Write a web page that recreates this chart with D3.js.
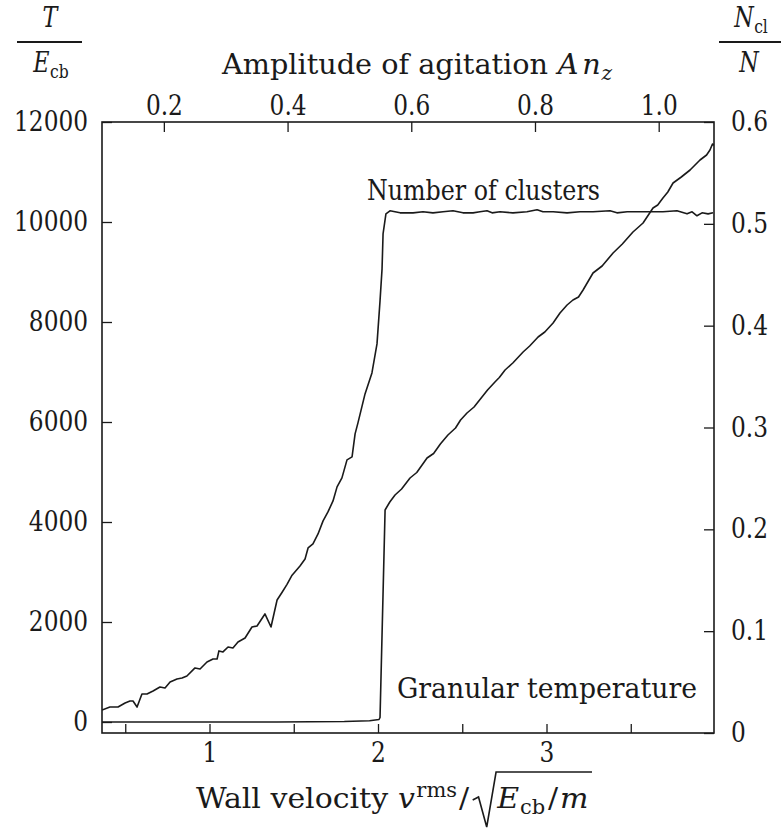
<!DOCTYPE html>
<html><head><meta charset="utf-8">
<script src="https://cdn.jsdelivr.net/npm/d3@7"></script>
<style>
body{margin:0;background:#fff}
svg{display:block}
</style>
</head><body>
<svg id="c" width="781" height="829"></svg>
<script>
// ---------- data ----------
const velocityTicks = [1, 2, 3];
const velocityMinorTicks = [0.5, 1.5, 2.5, 3.5];
const amplitudeTicks = [0.2, 0.4, 0.6, 0.8, 1.0];
const temperatureTicks = [0, 2000, 4000, 6000, 8000, 10000, 12000];
const clusterTicks = [0, 0.1, 0.2, 0.3, 0.4, 0.5, 0.6];

// Granular temperature T/E_cb (left axis) vs wall velocity
const temperatureV = [0.362, 0.6, 1.0, 1.4, 1.8, 1.95, 2.006, 2.012, 2.042, 2.07, 2.101, 2.14, 2.19, 2.23, 2.291, 2.33, 2.37, 2.415, 2.46, 2.49, 2.528, 2.57, 2.617, 2.65, 2.694, 2.72, 2.754, 2.80, 2.861, 2.90, 2.95, 2.99, 3.039, 3.08, 3.122, 3.157, 3.19, 3.217, 3.276, 3.33, 3.395, 3.45, 3.513, 3.573, 3.632, 3.66, 3.691, 3.72, 3.751, 3.80, 3.852, 3.911, 3.95, 3.97, 3.985, 3.994];
const temperatureT = [0, 0, 0, 0, 10, 25, 50, 90, 4240, 4400, 4540, 4660, 4880, 4990, 5280, 5370, 5560, 5740, 5880, 6040, 6180, 6300, 6500, 6640, 6800, 6890, 7040, 7180, 7400, 7520, 7700, 7800, 7980, 8180, 8340, 8440, 8500, 8640, 8980, 9120, 9380, 9560, 9800, 9980, 10280, 10340, 10480, 10600, 10780, 10900, 11040, 11240, 11340, 11440, 11560, 11540];

// Number of clusters N_cl/N (right axis) vs wall velocity
const clusterV = [0.362, 0.409, 0.457, 0.499, 0.528, 0.546, 0.570, 0.599, 0.629, 0.665, 0.706, 0.736, 0.766, 0.807, 0.837, 0.866, 0.914, 0.944, 0.985, 1.021, 1.045, 1.056, 1.080, 1.110, 1.139, 1.169, 1.211, 1.252, 1.282, 1.329, 1.365, 1.401, 1.43, 1.46, 1.49, 1.537, 1.567, 1.585, 1.614, 1.644, 1.674, 1.703, 1.733, 1.757, 1.786, 1.816, 1.846, 1.864, 1.881, 1.923, 1.964, 1.994, 2.012, 2.024, 2.030, 2.047, 2.071, 2.131, 2.208, 2.267, 2.326, 2.386, 2.445, 2.504, 2.564, 2.605, 2.647, 2.677, 2.724, 2.801, 2.884, 2.944, 2.979, 3.039, 3.122, 3.199, 3.276, 3.377, 3.418, 3.479, 3.597, 3.691, 3.774, 3.834, 3.864, 3.893, 3.923, 3.959, 3.988];
const clusterN = [0.0226, 0.0255, 0.0255, 0.0295, 0.0314, 0.0314, 0.0255, 0.0383, 0.0383, 0.0413, 0.0452, 0.0442, 0.0501, 0.0530, 0.0540, 0.0560, 0.0639, 0.0629, 0.0697, 0.0727, 0.0727, 0.0806, 0.0796, 0.0845, 0.0835, 0.0894, 0.0933, 0.1041, 0.1051, 0.1169, 0.1041, 0.1306, 0.138, 0.146, 0.155, 0.1640, 0.1709, 0.1817, 0.1857, 0.1955, 0.2083, 0.2171, 0.2279, 0.2417, 0.2505, 0.2682, 0.2711, 0.2937, 0.3045, 0.3330, 0.3536, 0.3821, 0.4244, 0.4558, 0.4902, 0.5098, 0.5128, 0.5108, 0.5108, 0.5118, 0.5108, 0.5118, 0.5128, 0.5108, 0.5108, 0.5118, 0.5128, 0.5108, 0.5118, 0.5108, 0.5118, 0.5138, 0.5118, 0.5118, 0.5108, 0.5118, 0.5118, 0.5128, 0.5108, 0.5118, 0.5118, 0.5118, 0.5128, 0.5098, 0.5118, 0.5079, 0.5108, 0.5098, 0.5108];

// ---------- layout ----------
const L = 102, R = 714, T = 122, B = 733;
const ink = '#1a1a1a';
const FONT = "'DejaVu Serif Condensed', 'DejaVu Serif', serif";
const svg = d3.select('#c').attr('font-family', FONT);

const x = d3.scaleLinear([0.362, 3.994], [L, R]);
const xTop = d3.scaleLinear([0.1, 1.0894], [L, R]);
const yL = d3.scaleLinear([-220, 12000], [B, T]);
const yR = d3.scaleLinear([0, 0.6], [B, T]);

// measure horizontal squeeze for tick labels ("12000" should be ~74px wide)
const TICK_SIZE = 27;
const probe = svg.append('text').attr('font-size', TICK_SIZE).text('12000');
const tickSx = Math.min(1, 74 / probe.node().getComputedTextLength());
probe.remove();

function styleAxis(g) {
  g.attr('font-family', FONT).attr('font-size', TICK_SIZE);
  g.select('.domain').remove();
  g.selectAll('line').attr('stroke', ink).attr('stroke-width', 1.3);
  g.selectAll('text').attr('fill', ink).each(function () {
    const t = d3.select(this);
    const x0 = +t.attr('x') || 0;
    t.attr('x', x0 / tickSx).attr('transform', `scale(${tickSx},1)`);
  });
}

svg.append('g').attr('transform', `translate(0,${B})`)
  .call(d3.axisBottom(x).tickValues(velocityMinorTicks.concat(velocityTicks))
    .tickFormat(d => velocityTicks.includes(d) ? String(d) : '')
    .tickSizeInner(-9).tickSizeOuter(0).tickPadding(10))
  .call(styleAxis);

svg.append('g').attr('transform', `translate(0,${T})`)
  .call(d3.axisTop(xTop).tickValues(amplitudeTicks).tickFormat(d => d.toFixed(1))
    .tickSizeInner(-10).tickSizeOuter(0).tickPadding(7))
  .call(styleAxis);

svg.append('g').attr('transform', `translate(${L},0)`)
  .call(d3.axisLeft(yL).tickValues(temperatureTicks).tickFormat(d3.format('d'))
    .tickSizeInner(-10).tickSizeOuter(0).tickPadding(14))
  .call(styleAxis);

svg.append('g').attr('transform', `translate(${R},0)`)
  .call(d3.axisRight(yR).tickValues(clusterTicks).tickFormat(d => d === 0 ? '0' : d.toFixed(1))
    .tickSizeInner(-10).tickSizeOuter(0).tickPadding(17))
  .call(styleAxis);

svg.append('rect').attr('x', L).attr('y', T).attr('width', R - L).attr('height', B - T)
  .attr('fill', 'none').attr('stroke', ink).attr('stroke-width', 1.6);

svg.append('clipPath').attr('id', 'pc').append('rect')
  .attr('x', L).attr('y', T).attr('width', R - L).attr('height', B - T);

const tempLine = d3.line().x((d, i) => x(temperatureV[i])).y(d => yL(d));
const clusLine = d3.line().x((d, i) => x(clusterV[i])).y(d => yR(d));

svg.append('path').attr('d', tempLine(temperatureT)).attr('fill', 'none')
  .attr('stroke', ink).attr('stroke-width', 1.6).attr('stroke-linejoin', 'round').attr('clip-path', 'url(#pc)');
svg.append('path').attr('d', clusLine(clusterN)).attr('fill', 'none')
  .attr('stroke', ink).attr('stroke-width', 1.6).attr('stroke-linejoin', 'round').attr('clip-path', 'url(#pc)');

// ---------- rich text ----------
// builds pieces in a local group starting at 0; returns natural width
function build(g, pieces, size, y) {
  let cx = 0;
  pieces.forEach(p => {
    const small = p.sub || p.sup;
    const fs = small ? size * 0.7 : size;
    const dy = p.sub ? size * 0.22 : p.sup ? -size * 0.38 : 0;
    cx += (p.dx || 0) * size;
    const t = g.append('text').attr('x', cx).attr('y', y + dy).attr('font-size', fs)
      .attr('fill', ink).attr('font-style', p.it ? 'italic' : 'normal').text(p.t);
    cx += t.node().getComputedTextLength();
  });
  return cx;
}
// place a label from x0 to x1 (squeezed horizontally to fit)
function fitLabel(x0, x1, y, pieces, size) {
  const outer = svg.append('g');
  const inner = outer.append('g');
  const w = build(inner, pieces, size, y);
  const sx = (x1 - x0) / w;
  outer.attr('transform', `translate(${x0},0) scale(${sx},1)`);
}
// centered label with fixed squeeze
function centerLabel(cx, y, pieces, size, sx) {
  const outer = svg.append('g');
  const inner = outer.append('g');
  const w = build(inner, pieces, size, y);
  outer.attr('transform', `translate(${cx - w * sx / 2},0) scale(${sx},1)`);
}

fitLabel(367, 600, 200, [{ t: 'Number of clusters' }], 27.5);
fitLabel(397, 697, 698, [{ t: 'Granular temperature' }], 27.5);

fitLabel(222, 612, 74, [{ t: 'Amplitude of agitation' }, { t: 'A', it: 1, dx: 0.3 }, { t: 'n', it: 1, dx: 0.12 }, { t: 'z', it: 1, sub: 1, dx: 0.02 }], 28.5);

// bottom title with radical
(function () {
  const size = 28.5, y = 808;
  const outer = svg.append('g');
  const inner = outer.append('g');
  const wA = build(inner, [{ t: 'Wall velocity' }, { t: 'v', it: 1, dx: 0.3 }, { t: 'rms', sup: 1, dx: 0.04 }, { t: '/', dx: 0.06 }], size, y);
  const rx = wA + 3;
  const gB = inner.append('g').attr('transform', `translate(${rx + 21},0)`);
  const wB = build(gB, [{ t: 'E', it: 1 }, { t: 'cb', sub: 1, dx: 0.03 }, { t: '/', dx: 0.08 }, { t: 'm', it: 1, dx: 0.06 }], size, y);
  const end = rx + 21 + wB + 3;
  inner.append('path')
    .attr('d', `M${rx},800 L${rx + 5},797 L${rx + 12},827 L${rx + 20},772 L${end},772`)
    .attr('fill', 'none').attr('stroke', ink).attr('stroke-width', 1.6)
    .attr('vector-effect', 'non-scaling-stroke');
  const sx = (592 - 196) / end;
  outer.attr('transform', `translate(196,0) scale(${sx},1)`);
})();

// fraction labels
centerLabel(50, 27, [{ t: 'T', it: 1 }], 27.5, 0.9);
svg.append('line').attr('x1', 17).attr('x2', 82).attr('y1', 42).attr('y2', 42).attr('stroke', ink).attr('stroke-width', 2.2);
centerLabel(51, 72, [{ t: 'E', it: 1 }, { t: 'cb', sub: 1, dx: 0.02 }], 27.5, 0.9);

centerLabel(751, 27, [{ t: 'N', it: 1 }, { t: 'cl', sub: 1, dx: 0.02 }], 27.5, 0.9);
svg.append('line').attr('x1', 719).attr('x2', 781).attr('y1', 42).attr('y2', 42).attr('stroke', ink).attr('stroke-width', 2.2);
centerLabel(749, 72, [{ t: 'N', it: 1 }], 27.5, 0.9);
</script>
</body></html>
